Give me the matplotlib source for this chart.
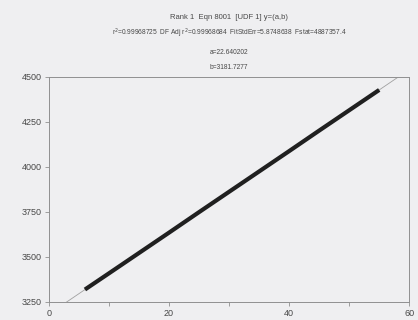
import numpy as np
import matplotlib.pyplot as plt

# fitted parameters of the UDF model y = a*x + b
a = 22.640202
b = 3181.7277

# measured points (dense run of samples, drawn as a thick trace)
x_data = [6, 10, 15, 20, 25, 30, 35, 40, 45, 50, 55]
y_data = [3318, 3408, 3521, 3634, 3748, 3861, 3974, 4087, 4201, 4314, 4427]

x_ticks = [0, 20, 40, 60]
y_ticks = [3250, 3500, 3750, 4000, 4250, 4500]

title_lines = [
    "Rank 1  Eqn 8001  [UDF 1] y=(a,b)",
    "r$^2$=0.99968725  DF Adj r$^2$=0.99968684  FitStdErr=5.8748638  Fstat=4887357.4",
    "a=22.640202",
    "b=3181.7277",
]

plt.rcParams['font.family'] = ['Liberation Sans', 'DejaVu Sans']
bg = '#efeff1'
txt = '#484848'

fig = plt.figure(figsize=(4.18, 3.2), dpi=100, facecolor=bg)
ax = fig.add_axes([0.117, 0.057, 0.862, 0.703], facecolor=bg)

# fit curve across the visible range
xf = np.linspace(0, 60, 200)
ax.plot(xf, a * xf + b, color='#a0a0a0', lw=0.6)
ax.plot(x_data, y_data, color='#202020', lw=3.0, solid_capstyle='butt')

ax.set_xlim(0, 60)
ax.set_ylim(3250, 4500)
ax.set_xticks(x_ticks)
ax.set_xticks([10, 30, 50], minor=True)
ax.set_yticks(y_ticks)
for s in ax.spines.values():
    s.set_color('#909090')
    s.set_linewidth(0.7)
ax.tick_params(axis='both', colors='#909090', labelcolor=txt, labelsize=6.5,
               length=3, width=0.6, direction='out', pad=2)
ax.tick_params(axis='x', which='minor', colors='#909090', length=3, width=0.6)

ys = [0.945, 0.895, 0.837, 0.79]
sizes = [5.5, 4.8, 4.8, 4.8]
for t, y, fs in zip(title_lines, ys, sizes):
    fig.text(0.548, y, t, ha='center', va='center', fontsize=fs, color=txt)

fig.savefig('out.png', dpi=100, facecolor=bg)
